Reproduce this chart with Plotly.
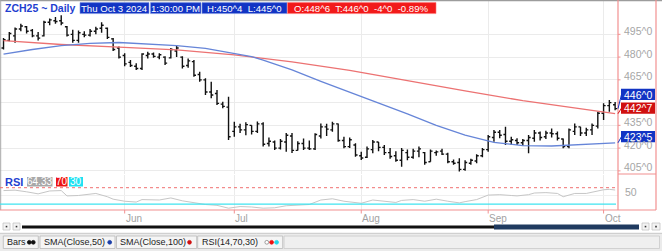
import plotly.graph_objects as go

# ---------------- data ----------------
opens = [486, 491, 494, 498.5, 500, 497.5, 494, 494, 503, 504, 504, 500, 495, 491, 495, 494.5, 497, 499, 499, 492, 486,
         481, 476.5, 474, 472.5, 481, 482, 480, 480, 479.5, 484, 480, 474.5, 477, 468.5, 465, 457, 456, 449, 447,
         431, 434, 432, 435, 431, 436, 423, 424, 420, 424, 428, 418.5, 423, 420, 419.5, 428, 434, 432, 436, 425, 421, 422,
         415, 414, 419, 424, 420.5, 417, 415, 412, 417, 414, 418, 417, 411, 417, 418, 416, 411, 410.5, 406, 410, 411.5, 415,
         419, 427, 430.5, 429, 424.5, 425, 423.5, 425, 426.5, 430, 427.5, 430, 429.5, 426, 421, 431, 434, 430, 432, 434.5,
         443, 448, 448.6]
highs = [492.5, 496.5, 499.5, 502, 500.5, 498.5, 496.5, 504, 505.5, 506.5, 507.5, 500.5, 498, 497.5, 497, 498.5, 500, 503, 499.5, 492.5, 487,
         482.5, 478, 476, 482.5, 483.5, 483, 482.5, 480.5, 486, 488, 480.5, 479, 478, 470.4, 466, 463.8, 458.3, 450.6, 453.9,
         437.4, 436, 437, 435, 437.5, 437, 427, 425, 426, 430, 430, 424.5, 426.4, 425, 429.8, 436.3, 436, 437.4, 436.3, 427.5, 427, 423.2,
         417.6, 421, 425.4, 424, 422, 420, 418, 420, 419, 419.5, 421, 417.5, 419, 418.5, 419.5, 417, 412.5, 413.3, 412, 413, 416, 420,
         428.6, 432, 432, 434, 427.5, 426.5, 426, 428.6, 432, 431, 431.5, 433, 431, 426.4, 433, 436.3, 434, 433.5, 436.3, 444,
         449.5, 451.7, 450.4]
lows = [485, 490.5, 489.5, 497, 495.5, 493, 491, 493.5, 501, 502, 501, 493.5, 489.5, 489.5, 493, 493.5, 495, 496, 492, 484, 479,
        474, 473.5, 471.5, 471.5, 479, 479.5, 478.5, 474.8, 479, 480, 472.5, 473, 467, 463.8, 455, 452.8, 448.4, 446.2, 425.3,
        427.5, 430, 428.5, 429, 430, 421, 421, 418.8, 419, 417.6, 416.7, 418.5, 418.8, 418.8, 418.8, 426.4, 428, 430.8, 424.2, 419.9, 420, 414.3,
        412.2, 413.5, 416.6, 418, 415.5, 413, 411, 407.7, 412, 413, 414, 409, 411, 415, 415.5, 410, 409, 404.5, 405, 409, 410, 414,
        417.6, 424.2, 426.5, 422, 422, 422, 421.5, 416.6, 424.2, 425, 426, 427, 425, 419.9, 419.9, 428.6, 428, 428, 428.6, 433,
        438.5, 444, 445]
closes = [491.5, 495.5, 498.5, 500.5, 497, 494, 492.5, 503, 504.5, 503.5, 502.5, 494.5, 491, 496, 494.5, 497, 498.5, 501, 493, 485, 480,
          475.5, 474.5, 472.5, 482, 482, 480.5, 481.5, 476, 485, 486, 474, 477.5, 468, 465, 457, 455, 449.5, 447.5, 427.5,
          434, 432, 435.5, 431, 436, 422.5, 424.5, 420, 424.5, 428.5, 418.5, 423, 420, 419.5, 429, 434, 432.5, 436, 425, 421, 425.5, 415.5,
          413.5, 419.5, 424, 420.5, 417, 414.5, 412, 418.5, 414, 418, 419.5, 410.5, 418, 417.5, 416, 411, 410, 406, 410.5, 412, 415, 419,
          427.5, 430.5, 428.5, 424.5, 425.5, 423.5, 425, 427, 430, 427, 430, 429.5, 426.5, 421, 432, 434, 430, 432, 435, 443,
          448, 450, 446]

sma50_idx = [0, 5, 10, 15, 20, 25, 30, 35, 40, 43, 45, 50, 55, 60, 65, 70, 75, 80, 85, 90, 95, 100, 106]
sma50 = [482, 485, 487.5, 489, 489.6, 488.5, 487.6, 485.8, 482.3, 480.3, 478, 471.5, 464, 457, 449.5, 442.5, 435,
         428.5, 423.8, 421.6, 421.4, 422.2, 423.5]
sma100_idx = [0, 10, 20, 30, 40, 50, 60, 70, 80, 90, 100, 106]
sma100 = [490.8, 488.3, 486.5, 484.7, 481.5, 476.8, 471.3, 464.3, 457.7, 451.3, 446.1, 442.7]

rsi_idx = [0, 2, 4, 6, 8, 10, 11, 13, 16, 18, 19, 21, 23, 24, 27, 29, 31, 33, 35, 37, 39, 41, 43, 45, 47, 49, 51, 53,
           55, 57, 59, 61, 62, 64, 66, 68, 69, 71, 73, 75, 77, 79, 80, 82, 84, 86, 88, 89, 91, 92, 94, 96, 97, 99,
           101, 103, 104, 105, 106]
rsi = [63, 64, 60, 55, 62, 63, 50, 51, 56, 48, 42, 37, 35, 41, 40, 45, 38, 34, 29, 27, 20, 24, 23, 20, 21, 26, 27, 29,
       40, 43, 37, 33, 32, 40, 37, 34, 39, 41, 37, 42, 37, 33, 36, 41, 52, 53, 51, 50, 53, 57, 58, 56, 48, 56,
       56, 62, 65, 66, 64.33]

month_labels = ["Jun", "Jul", "Aug", "Sep", "Oct"]
month_idx = [21, 40, 62, 84, 104]
price_ticks = [405, 420, 435, 450, 465, 480, 495]
price_tick_text = ["405^0", "420^0", "435^0", "", "465^0", "480^0", "495^0"]  # 450 hidden behind value boxes

header_texts = ["Thu Oct 3 2024", "1:30:00 PM", "H:450^4\u00a0\u00a0L:445^0",
                "O:448^6\u00a0\u00a0T:446^0\u00a0\u00a0-4^0\u00a0\u00a0-0.89%"]
last_labels = ["446^0", "442^7", "423^5"]
legend_items = ["Bars", "SMA(Close,50)", "SMA(Close,100)", "RSI(14,70,30)"]

# ---------------- geometry ----------------
W, H = 662, 251
FONT = "Liberation Sans, Arial, sans-serif"
BLUE_BOX = "#1234c4"
RED_BOX = "#f21a1a"
FRAME = "#f29090"
GRID = "#ebebeb"

X_MIN, X_MAX = -0.61, 106.5
Y_MIN, Y_MAX = 402.93, 517.63
R_MIN, R_MAX = 15.6, 101.0
PLOT_R = 618
MAIN_BOT = 174
RSI_TOP, RSI_BOT = 175, 210


def fx(p):
    return p / W


def fy(p):
    return 1 - p / H


def price_py(v):
    return (Y_MAX - v) / (Y_MAX - Y_MIN) * MAIN_BOT


xs = list(range(len(closes)))

fig = go.Figure()
fig.add_trace(go.Ohlc(
    x=xs, open=opens, high=highs, low=lows, close=closes,
    xaxis="x", yaxis="y", tickwidth=0.36, hoverinfo="skip",
    increasing=dict(line=dict(color="#111111", width=1.4)),
    decreasing=dict(line=dict(color="#111111", width=1.4)),
))
fig.add_trace(go.Scatter(x=sma100_idx, y=sma100, mode="lines", xaxis="x", yaxis="y",
                         line=dict(color="#ec7272", width=1.3), hoverinfo="skip"))
fig.add_trace(go.Scatter(x=sma50_idx, y=sma50, mode="lines", xaxis="x", yaxis="y",
                         line=dict(color="#6685d8", width=1.3), hoverinfo="skip"))
fig.add_trace(go.Scatter(x=rsi_idx, y=rsi, mode="lines", xaxis="x2", yaxis="y2",
                         line=dict(color="#c6c6c6", width=1), hoverinfo="skip"))

shapes = []
ann = []


def rect(x0, y0, x1, y1, fill, line=None, lw=1):
    shapes.append(dict(type="rect", xref="paper", yref="paper",
                       x0=fx(x0), x1=fx(x1), y0=fy(y1), y1=fy(y0),
                       fillcolor=fill, line=dict(color=line or fill, width=lw if line else 0), layer="above"))


def hline(x0, x1, y, color, width=1, dash="solid"):
    shapes.append(dict(type="line", xref="paper", yref="paper", x0=fx(x0), x1=fx(x1), y0=fy(y), y1=fy(y),
                       line=dict(color=color, width=width, dash=dash), layer="above"))


def vline(x, y0, y1, color, width=1):
    shapes.append(dict(type="line", xref="paper", yref="paper", x0=fx(x), x1=fx(x), y0=fy(y0), y1=fy(y1),
                       line=dict(color=color, width=width), layer="above"))


def text(x, y, s, size=10, color="#000", anchor="left", bold=False):
    ann.append(dict(xref="paper", yref="paper", x=fx(x), y=fy(y), text=f"<b>{s}</b>" if bold else s,
                    showarrow=False, xanchor=anchor, yanchor="middle",
                    font=dict(family=FONT, size=size, color=color)))


def dot(x, y, r, fill, line=None):
    shapes.append(dict(type="circle", xref="paper", yref="paper", x0=fx(x - r), x1=fx(x + r),
                       y0=fy(y + r), y1=fy(y - r), fillcolor=fill,
                       line=dict(color=line or fill, width=0.8), layer="above"))


# frame lines
hline(0, W, 0.6, "#9c9c9c", 1.5)
vline(0.7, 0, RSI_BOT, "#a8a8a8", 1)
vline(PLOT_R, 0, RSI_BOT, FRAME, 1.2)
vline(656, 0, RSI_BOT, FRAME, 1.2)
hline(PLOT_R, 656, MAIN_BOT, FRAME, 1.2)
hline(0, 656, RSI_BOT, FRAME, 1.2)

# RSI reference lines
shapes.append(dict(type="line", xref="paper", yref="y2", x0=0, x1=fx(616), y0=70, y1=70,
                   line=dict(color="#f07070", width=1, dash="dot"), layer="above"))
shapes.append(dict(type="line", xref="paper", yref="y2", x0=0, x1=fx(616), y0=30, y1=30,
                   line=dict(color="#3fe3ef", width=1.2), layer="above"))

# price axis labels
for v, t in zip(price_ticks, price_tick_text):
    if t:
        ann.append(dict(xref="paper", yref="y", x=fx(622), y=v, text=t, showarrow=False, xanchor="left",
                        yanchor="middle", yshift=3.5, font=dict(family=FONT, size=10.5, color="#a6a6a6")))
    shapes.append(dict(type="line", xref="paper", yref="y", x0=fx(PLOT_R), x1=fx(PLOT_R + 2.5), y0=v, y1=v,
                       line=dict(color=FRAME, width=1), layer="above"))
ann.append(dict(xref="paper", yref="y2", x=fx(623), y=50, text="50", showarrow=False, xanchor="left",
                yanchor="middle", yshift=3.5, font=dict(family=FONT, size=10.5, color="#a6a6a6")))

# month labels + ticks
for lab, i in zip(month_labels, month_idx):
    ann.append(dict(xref="x2", yref="paper", x=i, y=fy(218.5), text=lab, showarrow=False, xanchor="left",
                    yanchor="middle", xshift=-1, font=dict(family=FONT, size=10, color="#a2a2a2")))
    shapes.append(dict(type="line", xref="x2", yref="paper", x0=i, x1=i, y0=fy(RSI_BOT), y1=fy(213.5),
                       line=dict(color=FRAME, width=1), layer="above"))

# header row
text(2.5, 8.3, "ZCH25 ~ Daily", 10.5, "#1f3fd0", bold=True)
hdr_boxes = [(80, 149, BLUE_BOX), (150.5, 201, BLUE_BOX), (202, 287, BLUE_BOX), (287.5, 436, RED_BOX)]
for (x0, x1, c), t in zip(hdr_boxes, header_texts):
    rect(x0, 2.6, x1, 13.6, c, "#7d93e0" if c == BLUE_BOX else "#ff7777", 0.6)
    text((x0 + x1) / 2, 8.3, t, 9.6, "#ffffff", "center")

# RSI header
text(3, 181.6, "RSI", 11, "#1f3fd0", bold=True)
rsi_boxes = [(27, 52.5, "#a8a8a8", "64.33"), (56, 67.5, "#ee1414", "70"), (69, 83, "#1fe2f2", "30")]
for x0, x1, c, t in rsi_boxes:
    rect(x0, 177, x1, 186.5, c)
    text((x0 + x1) / 2, 181.8, t, 10, "#ffffff", "center")

# last value boxes
last_vals = [closes[-1], sma100[-1], sma50[-1]]
last_cols = [BLUE_BOX, "#d01010", BLUE_BOX]
label_offsets = [-14.2, -5.6, -6.2]
for v, t, c, off in zip(last_vals, last_labels, last_cols, label_offsets):
    yp = price_py(v)
    cy = yp + off
    shapes.append(dict(type="line", xref="paper", yref="paper", x0=fx(PLOT_R), x1=fx(621.5),
                       y0=fy(yp), y1=fy(cy), line=dict(color=c, width=1), layer="above"))
    rect(621, cy - 5.6, 655, cy + 5.6, c)
    text(638, cy + 0.3, t, 10.5, "#ffffff", "center")

# scrollbar
for x0, x1 in [(3, 10), (13, 20), (642, 649), (652, 660)]:
    rect(x0, 223, x1, 230, "#f3f3f3", "#c4c4c4", 0.8)
    rect((x0 + x1) / 2 - 0.8, 225.8, (x0 + x1) / 2 + 0.8, 227.4, "#333333")
rect(22, 225.6, 494, 228.4, "#111111")
rect(494, 224.6, 639, 229.4, "#1f3a5f")

# bottom legend bar
rect(0, 233, W, H, "#ebebeb")
hline(0, W, 233.3, "#c9c9c9", 1)
tabs = [(3.3, 38.3), (40, 115), (116.5, 196.7), (197.7, 282.7)]
for x0, x1 in tabs:
    rect(x0, 236, x1, 248.5, "#f5f5f5", "#b9b9b9", 0.8)
rect(284, 236, 659.5, 248.5, "#efefef", "#c9c9c9", 0.8)
text_x = [5, 42, 118, 199.5]
for x, t in zip(text_x, legend_items):
    text(x, 242.3, t, 9, "#1c1c1c")
dot(29.3, 242.3, 1.9, "#111111")
dot(33.3, 242.3, 1.9, "#111111")
dot(109.7, 242.3, 1.9, "#1c3fa8")
dot(189.5, 242.3, 1.9, "#d01010")
dot(266.8, 242.3, 1.9, "#ffffff", "#888888")
dot(271.6, 242.3, 1.9, "#ee1111")
dot(276.6, 242.3, 1.9, "#22d8ea")

fig.update_layout(
    width=W, height=H, margin=dict(l=0, r=0, t=0, b=0),
    paper_bgcolor="#ffffff", plot_bgcolor="#ffffff", showlegend=False,
    font=dict(family=FONT),
    xaxis=dict(domain=[0, fx(PLOT_R)], range=[X_MIN, X_MAX], tickvals=month_idx, showticklabels=False,
               showgrid=True, gridcolor=GRID, zeroline=False, showline=False, ticks="",
               rangeslider=dict(visible=False), anchor="y", fixedrange=True),
    yaxis=dict(domain=[fy(MAIN_BOT), 1], range=[Y_MIN, Y_MAX], tickvals=price_ticks, showticklabels=False,
               showgrid=True, gridcolor=GRID, zeroline=False, showline=False, ticks="", anchor="x",
               fixedrange=True),
    xaxis2=dict(domain=[0, fx(PLOT_R)], range=[X_MIN, X_MAX], tickvals=month_idx, showticklabels=False,
                showgrid=True, gridcolor=GRID, zeroline=False, showline=False, ticks="", anchor="y2",
                fixedrange=True),
    yaxis2=dict(domain=[fy(RSI_BOT), fy(RSI_TOP)], range=[R_MIN, R_MAX], tickvals=[50], showticklabels=False,
                showgrid=True, gridcolor="#f0f0f0", zeroline=False, showline=False, ticks="", anchor="x2",
                fixedrange=True),
    shapes=shapes, annotations=ann,
)

fig.write_html("out.html", config={"displayModeBar": False},
               post_script="document.body.style.margin='0';document.body.style.padding='0';"
                           "document.body.style.overflow='hidden';")
